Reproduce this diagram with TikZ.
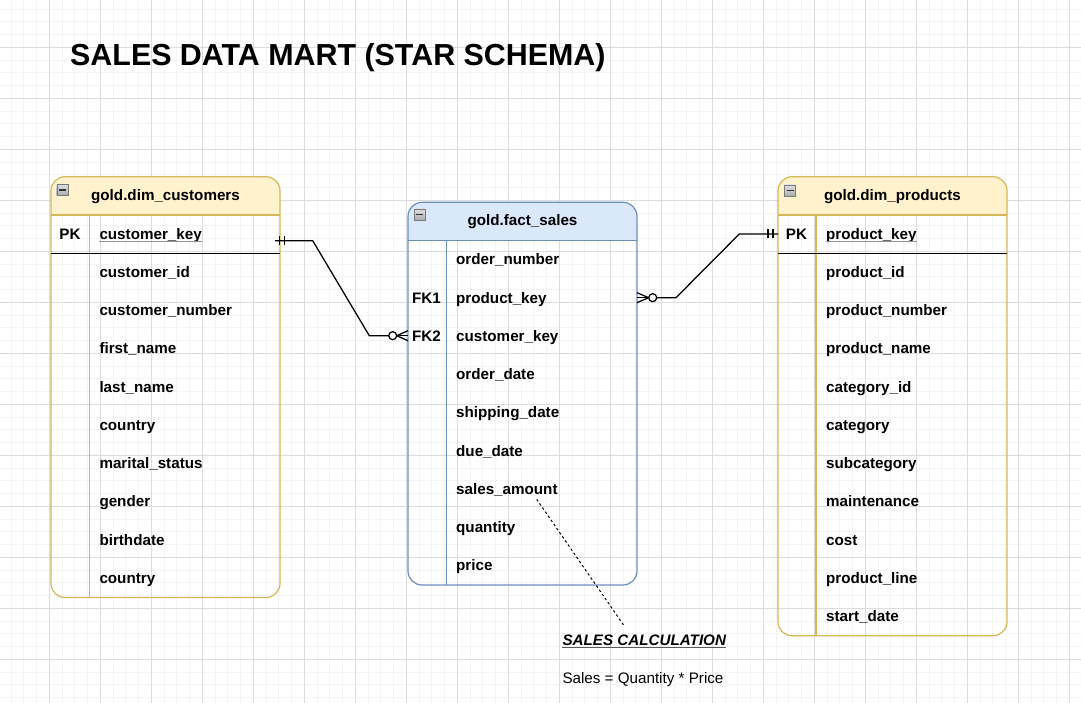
\documentclass[tikz,border=0pt]{standalone}
\usepackage{fontspec}
\setmainfont{Liberation Sans}
\usetikzlibrary{fit}
\definecolor{yfill}{HTML}{FFF2CC}
\definecolor{ystroke}{HTML}{D6B656}
\definecolor{bfill}{HTML}{DAE8FC}
\definecolor{bstroke}{HTML}{6C8EBF}
\definecolor{gridminor}{HTML}{F4F4F4}
\definecolor{gridmajor}{HTML}{DCDCDC}
\newcommand\ertable[9]{%
  \begin{scope}
    \clip (#2,#4) rectangle (#3,#5);
    \fill[#8, rounded corners=14pt] (#2,#4) rectangle (#3,#6);
  \end{scope}
  \draw[#9, line width=1.2pt] (#2,#5) -- (#3,#5);
  \draw[#9, line width=1.2pt] (#7,#5) -- (#7,#6);
  \node[fit={(#2,#4) (#3,#6)}, inner sep=0pt, draw=#9, rounded corners=14pt, line width=1.2pt] (#1) {};
}
\begin{document}
\begin{tikzpicture}[x=1pt,y=-1pt,
  field/.style={anchor=base west, inner sep=0pt, font=\fontsize{15.2}{18}\selectfont\bfseries},
  keylbl/.style={anchor=base, inner sep=0pt, font=\fontsize{15.2}{18}\selectfont\bfseries},
  hdr/.style={anchor=base, inner sep=0pt, font=\fontsize{15.2}{18}\selectfont\bfseries},
  bigtitle/.style={anchor=base west, inner sep=0pt, font=\fontsize{30.4}{36}\selectfont\bfseries},
  minusicon/.style={rectangle, minimum size=11pt, inner sep=0pt, draw=gray!95!black, top color=gray!25, bottom color=gray!65,
    path picture={\draw[black!80, line width=1.5pt] ([xshift=2pt]path picture bounding box.west) -- ([xshift=-2pt]path picture bounding box.east);}},
  rel/.style={line width=1.25pt, black},
  ul/.style={gray!85, line width=1.1pt},
]
\useasboundingbox (0,0) rectangle (1081,703);
\fill[white] (0,0) rectangle (1081,703);
% grid
\foreach \k in {0,...,85} \draw[gridminor, line width=1pt] ({-1.7+12.75*\k},0) -- ({-1.7+12.75*\k},703);
\foreach \k in {0,...,55} \draw[gridminor, line width=1pt] (0,{-3.7+12.75*\k}) -- (1081,{-3.7+12.75*\k});
\foreach \k in {0,...,21} \draw[gridmajor, line width=1pt] ({-1.7+51*\k},0) -- ({-1.7+51*\k},703);
\foreach \k in {0,...,14} \draw[gridmajor, line width=1pt] (0,{-3.7+51*\k}) -- (1081,{-3.7+51*\k});

% title
\node[bigtitle] (title) at (70,65.5) {SALES DATA MART (STAR SCHEMA)};

% ---------- customers
\ertable{cust}{51}{280}{176.7}{215}{597.5}{89.3}{yfill}{ystroke}
\draw[black, line width=1.3pt] (51,253.3) -- (280,253.3);
\node[minusicon] (custmin) at (62.2,189.8) {};
\node[hdr] (custhdr) at (165.5,200.3) {gold.dim\_customers};
\node[keylbl] (custpk) at (70,239.1) {PK};
\foreach \t [count=\i from 0] in {customer\_key,customer\_id,customer\_number,first\_name,last\_name,country,marital\_status,gender,birthdate,country}
  \node[field] (cust-\i) at (99.3,{239.1+38.25*\i}) {\t};
\draw[ul] ([yshift=-2pt]cust-0.base west) -- ([yshift=-2pt]cust-0.base east);

% ---------- fact
\ertable{fact}{408}{637}{202.3}{240.7}{585}{446.7}{bfill}{bstroke}
\node[minusicon] (factmin) at (419.5,214.5) {};
\node[hdr] (facthdr) at (522.5,226) {gold.fact\_sales};
\node[keylbl] (fk1) at (426.5,303) {FK1};
\node[keylbl] (fk2) at (426.5,341.3) {FK2};
\foreach \t [count=\i from 0] in {order\_number,product\_key,customer\_key,order\_date,shipping\_date,due\_date,sales\_amount,quantity,price}
  \node[field] (fact-\i) at (456,{264.8+38.25*\i}) {\t};

% ---------- products
\ertable{prod}{778}{1007}{176.7}{215}{635.75}{816}{yfill}{ystroke}
\draw[black, line width=1.3pt] (778,253.3) -- (1007,253.3);
\node[minusicon] (prodmin) at (790,190.3) {};
\node[hdr] (prodhdr) at (892.5,200.3) {gold.dim\_products};
\node[keylbl] (prodpk) at (796.5,239.1) {PK};
\foreach \t [count=\i from 0] in {product\_key,product\_id,product\_number,product\_name,category\_id,category,subcategory,maintenance,cost,product\_line,start\_date}
  \node[field] (prod-\i) at (826,{239.1+38.25*\i}) {\t};
\draw[ul] ([yshift=-2pt]prod-0.base west) -- ([yshift=-2pt]prod-0.base east);

% ---------- relation customers -> fact
\coordinate (r1a) at (275,240.7);
\coordinate (r1b) at (312.7,240.7);
\coordinate (r1c) at (369.3,335.7);
\coordinate (r1o) at (392.7,335.7);
\coordinate (r1d) at (408,335.7);
\draw[rel] (r1a) -- (r1b) -- (r1c) -- ([xshift=-4pt]r1o);
\draw[rel] (279.5,236.2) -- (279.5,245.2);
\draw[rel] (284.5,236.2) -- (284.5,245.2);
\draw[rel] ([xshift=4pt]r1o) -- (r1d);
\draw[rel] ([xshift=4pt]r1o) -- (408,330.7);
\draw[rel] ([xshift=4pt]r1o) -- (408,340.7);
\draw[rel, fill=white] (r1o) circle (4);

% ---------- relation fact -> products
\coordinate (r2a) at (637,297.7);
\coordinate (r2o) at (652.7,297.7);
\coordinate (r2b) at (676,297.7);
\coordinate (r2c) at (739.3,234);
\coordinate (r2d) at (778,234);
\draw[rel] ([xshift=4pt]r2o) -- (r2b) -- (r2c) -- (r2d);
\draw[rel] (768,229.5) -- (768,238.5);
\draw[rel] (773,229.5) -- (773,238.5);
\draw[rel] (r2a) -- ([xshift=-4pt]r2o);
\draw[rel] (637,292.7) -- ([xshift=-4pt]r2o) -- (637,302.7);
\draw[rel, fill=white] (r2o) circle (4);

% ---------- note
\node[anchor=base west, inner sep=0pt, font=\fontsize{15.2}{18}\selectfont\bfseries\itshape] (calc) at (562.3,645.7) {SALES CALCULATION};
\draw[gray!70!black, line width=1.3pt] ([yshift=-2pt]calc.base west) -- ([yshift=-2pt]calc.base east);
\node[anchor=base west, inner sep=0pt, font=\fontsize{15.2}{18}\selectfont] (formula) at (562.3,683.3) {Sales = Quantity * Price};
\coordinate (dotA) at (536.7,499.3);
\coordinate (dotB) at (624,625.7);
\draw[black, line width=1pt, dash pattern=on 2.5pt off 2.5pt] (dotA) -- (dotB);
\end{tikzpicture}
\end{document}
